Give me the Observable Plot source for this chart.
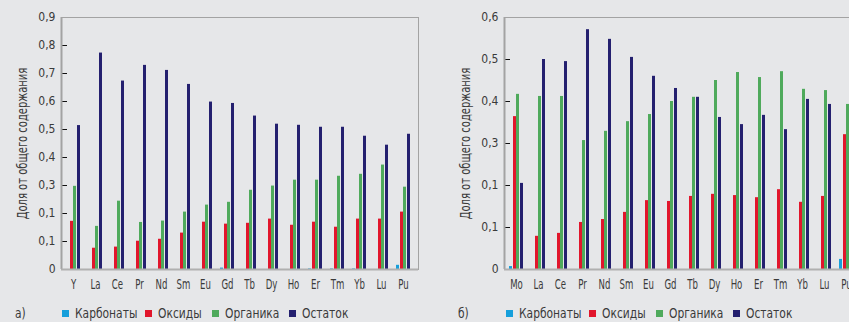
<!DOCTYPE html>
<html><head><meta charset="utf-8">
<script src="https://cdn.jsdelivr.net/npm/d3@7"></script>
<script src="https://cdn.jsdelivr.net/npm/@observablehq/plot@0.6"></script>
<style>
html,body{margin:0;padding:0;background:#e6e7e9;}
#wrap{position:relative;width:849px;height:322px;overflow:hidden;background:#e6e7e9;font-family:"DejaVu Sans Condensed","Liberation Sans Narrow",sans-serif;color:#3a3a3a;}
.panel{position:absolute;top:0;}
.legend{position:absolute;top:305px;height:16px;width:300px;font-size:14px;line-height:16px;}
.legend .item{position:absolute;top:0;white-space:nowrap;}
.legend .sw{position:absolute;top:5px;left:0;width:7px;height:7px;}
.legend .tx{position:absolute;top:0;left:13px;display:inline-block;transform:scaleX(0.85);transform-origin:left center;}
.tag{position:absolute;top:305px;font-size:14px;line-height:16px;transform:scaleX(0.85);transform-origin:left center;}
</style></head><body><div id="wrap"></div><script>
// ---- data ----
const seriesNames = ["Карбонаты", "Оксиды", "Органика", "Остаток"];
const seriesColors = ["#169fdb", "#e1162c", "#4faa5c", "#24206f"];
const yTitle = "Доля от общего содержания";

const elementsA = ["Y","La","Ce","Pr","Nd","Sm","Eu","Gd","Tb","Dy","Ho","Er","Tm","Yb","Lu","Pu"];
const carbonatesA = [0,0,0,0,0,0,0,0.005,0,0,0,0.002,0.002,0.002,0,0.015];
const oxidesA = [0.172,0.076,0.080,0.101,0.108,0.130,0.169,0.162,0.165,0.180,0.158,0.169,0.151,0.180,0.180,0.205];
const organicsA = [0.297,0.154,0.244,0.168,0.173,0.205,0.230,0.240,0.283,0.298,0.319,0.319,0.333,0.340,0.373,0.294];
const residueA = [0.514,0.773,0.673,0.729,0.711,0.661,0.598,0.593,0.548,0.519,0.515,0.508,0.508,0.476,0.444,0.483];
const tickValuesA = [0,0.1,0.2,0.3,0.4,0.5,0.6,0.7,0.8,0.9];
const tickLabelsA = ["0","0,1","0,1","0,3","0,4","0,5","0,6","0,7","0,8","0,9"];

const elementsB = ["Mo","La","Ce","Pr","Nd","Sm","Eu","Gd","Tb","Dy","Ho","Er","Tm","Yb","Lu","Pu"];
const carbonatesB = [0.007,0,0,0,0,0,0,0,0,0,0,0,0,0,0,0.024];
const oxidesB = [0.364,0.079,0.086,0.112,0.119,0.136,0.164,0.162,0.174,0.179,0.176,0.171,0.190,0.160,0.174,0.321];
const organicsB = [0.417,0.412,0.412,0.307,0.329,0.352,0.369,0.400,0.410,0.450,0.469,0.457,0.471,0.429,0.426,0.393];
const residueB = [0.205,0.500,0.495,0.571,0.548,0.505,0.460,0.431,0.410,0.362,0.345,0.367,0.333,0.405,0.393,0.300];
const tickValuesB = [0,0.1,0.2,0.3,0.4,0.5,0.6];
const tickLabelsB = ["0","0,1","0,1","0,3","0,4","0,5","0,6"];

const panelTags = ["а)", "б)"];

// ---- drawing ----
const FONT = '"DejaVu Sans Condensed","Liberation Sans Narrow",sans-serif';
function makePanel(elements, series, tickValues, tickLabels, marginLeft, width) {
  const marginRight = 12;
  const pi = 0.36, po = 0.29, align = 0.42;
  const inner = width - marginLeft - marginRight;
  // replicate the rounded band geometry to place the bars inside each group
  const step = Math.floor(inner / (elements.length - pi + 2 * po));
  const start = Math.round(marginLeft + (inner - step * (elements.length - pi)) * align);
  const bw = Math.round(step * (1 - pi));
  const offsets = [0, 4, 7, 11], barW = 3;
  const yMax = tickValues[tickValues.length - 1];
  return Plot.plot({
    width, height: 300,
    marginLeft, marginRight, marginTop: 17, marginBottom: 31,
    style: {background: "transparent", fontFamily: FONT, fontSize: "14px", color: "#3a3a3a"},
    x: {domain: elements, paddingInner: pi, paddingOuter: po, align, round: true, tickSize: 0, tickPadding: 10, label: null},
    y: {domain: [0, yMax], ticks: tickValues, tickFormat: d => tickLabels[Math.round(d * 10)],
        tickSize: -6, tickPadding: 12, label: yTitle, labelAnchor: "center", labelArrow: "none", labelOffset: 44},
    marks: [
      Plot.frame({stroke: "#a3a3a3"}),
      ...series.map((vals, k) => Plot.barY(vals, {
        x: (d, i) => elements[i], y: d => d, fill: seriesColors[k],
        insetLeft: offsets[k], insetRight: Math.max(0, bw - offsets[k] - barW)
      })),
      Plot.ruleX([elements[0]], {stroke: "#a3a3a3", strokeWidth: 2, dx: marginLeft - start - bw / 2}),
      Plot.ruleY([0], {stroke: "#b0b0b0", strokeWidth: 2})
    ]
  });
}

// condense text (the original uses a narrow, tall typeface)
function condense(svg) {
  svg.querySelectorAll("text").forEach(t => {
    const g = t.closest("[aria-label]");
    const lab = g ? g.getAttribute("aria-label") : "";
    let scale = 1, size = null;
    if (lab.includes("x-axis")) { scale = 0.68; size = 14; }
    else if (lab.includes("y-axis label")) { scale = 0.79; size = 14; }
    else if (lab.includes("y-axis")) { scale = 1; size = 12; }
    if (size) t.setAttribute("font-size", size);
    if (scale !== 1) {
      const len = t.getComputedTextLength();
      t.setAttribute("textLength", (len * scale).toFixed(2));
      t.setAttribute("lengthAdjust", "spacingAndGlyphs");
    }
  });
  svg.querySelectorAll('[aria-label="y-axis tick"] path, [aria-label="y-axis tick"]').forEach(p => {
    if (p.tagName === "g" || p.tagName === "path") p.setAttribute("stroke", "#111");
  });
}

const wrap = document.getElementById("wrap");
function addPanel(svg, left) {
  svg.classList.add("panel");
  svg.style.left = left + "px";
  wrap.appendChild(svg);
  condense(svg);
}
addPanel(makePanel(elementsA, [carbonatesA, oxidesA, organicsA, residueA], tickValuesA, tickLabelsA, 61, 430), 0);
addPanel(makePanel(elementsB, [carbonatesB, oxidesB, organicsB, residueB], tickValuesB, tickLabelsB, 74, 443), 430);

const legendOffsets = [0, 83, 150, 227];
function addLegend(left, tagLeft, tag) {
  const t = document.createElement("div");
  t.className = "tag"; t.style.left = tagLeft + "px"; t.textContent = tag;
  wrap.appendChild(t);
  const lg = document.createElement("div");
  lg.className = "legend"; lg.style.left = left + "px";
  seriesNames.forEach((name, k) => {
    const it = document.createElement("div"); it.className = "item";
    it.style.left = legendOffsets[k] + "px";
    const sw = document.createElement("span"); sw.className = "sw"; sw.style.background = seriesColors[k];
    const tx = document.createElement("span"); tx.className = "tx"; tx.textContent = name;
    it.appendChild(sw); it.appendChild(tx); lg.appendChild(it);
  });
  wrap.appendChild(lg);
}
addLegend(62, 15, panelTags[0]);
addLegend(506, 458, panelTags[1]);
</script></body></html>
